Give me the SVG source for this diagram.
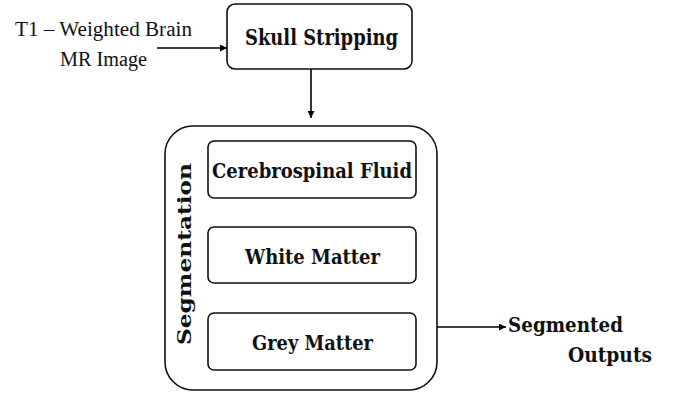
<svg xmlns="http://www.w3.org/2000/svg" width="678" height="394" viewBox="0 0 678 394">
<defs>
<marker id="ah" viewBox="0 0 10 10" refX="10" refY="5" markerWidth="7" markerHeight="7" markerUnits="userSpaceOnUse" orient="auto"><path d="M0,0 L10,5 L0,10 z" fill="#000"/></marker>
</defs>
<style>
.box{fill:#fff;stroke:#111;stroke-width:1.6}
.b{font-family:"DejaVu Serif","Liberation Serif",serif;font-weight:bold;font-size:21px;fill:#111}
.r{font-family:"Liberation Serif",serif;font-size:20px;fill:#111}
.ln{stroke:#000;stroke-width:1.6;fill:none;marker-end:url(#ah)}
</style>
<rect width="678" height="394" fill="#fff"/>
<g id="input">
<text class="r" x="15" y="36" textLength="177" lengthAdjust="spacingAndGlyphs">T1 – Weighted Brain</text>
<text class="r" x="60" y="66" textLength="87" lengthAdjust="spacingAndGlyphs">MR Image</text>
</g>
<g id="skull">
<rect class="box" x="227" y="4" width="185" height="65" rx="8"/>
<text class="b" x="245" y="45" style="font-size:23px" textLength="153" lengthAdjust="spacingAndGlyphs">Skull Stripping</text>
</g>
<g id="segmentation">
<rect class="box" x="165" y="126" width="272" height="264" rx="28"/>
<text class="b" transform="translate(191,345) rotate(-90)" x="0" y="0" style="font-size:19px" textLength="182" lengthAdjust="spacingAndGlyphs">Segmentation</text>
</g>
<g id="csf">
<rect class="box" x="208" y="141" width="208" height="57" rx="6"/>
<text class="b" x="212" y="178" textLength="200" lengthAdjust="spacingAndGlyphs">Cerebrospinal Fluid</text>
</g>
<g id="wm">
<rect class="box" x="208" y="227" width="208" height="56" rx="6"/>
<text class="b" x="245" y="264" textLength="135" lengthAdjust="spacingAndGlyphs">White Matter</text>
</g>
<g id="gm">
<rect class="box" x="208" y="313" width="208" height="57" rx="6"/>
<text class="b" x="252" y="350" textLength="121" lengthAdjust="spacingAndGlyphs">Grey Matter</text>
</g>
<g id="output">
<text class="b" x="508" y="332" textLength="115" lengthAdjust="spacingAndGlyphs">Segmented</text>
<text class="b" x="568" y="362" textLength="84" lengthAdjust="spacingAndGlyphs">Outputs</text>
</g>
<g id="connectors">
<line class="ln" x1="157" y1="48" x2="227" y2="48"/>
<line class="ln" x1="311" y1="69" x2="311" y2="118"/>
<line class="ln" x1="437" y1="327" x2="506" y2="327"/>
</g>
</svg>
